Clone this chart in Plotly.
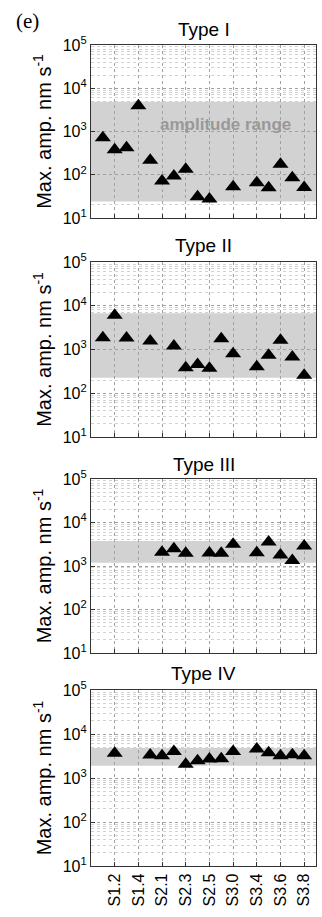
import plotly.graph_objects as go

# ---------------- data ----------------
categories = ["S1.1", "S1.2", "S1.3", "S1.4", "S1.5", "S2.1", "S2.2", "S2.3", "S2.4",
              "S2.5", "S2.6", "S3.0", "S3.2", "S3.4", "S3.5", "S3.6", "S3.7", "S3.8"]
tick_labels = ["S1.2", "S1.4", "S2.1", "S2.3", "S2.5", "S3.0", "S3.4", "S3.6", "S3.8"]

type_names = ["Type I", "Type II", "Type III", "Type IV"]

type1 = [720, 380, 420, 3950, 216, 72, 94, 134, 31, 27.5, None, 53, None, 65, 50, 174, 85, 51]
type2 = [1860, 6030, 1830, None, 1560, None, 1200, 384, 456, 372, 1770, 797, None, 405, 739, 1620, 676, 258]
type3 = [None, None, None, None, None, 2070, 2500, 1960, None, 1990, 1960, 3150, None, 2020, 3560, 1780, 1330, 2890]
type4 = [None, 3630, None, None, 3340, 3220, 3980, 2050, 2480, 2720, 2750, 3980, None, 4570, 3770, 3220, 3390, 3220]
series = [type1, type2, type3, type4]

band_low = [24, 227, 1190, 1890]
band_high = [4900, 6700, 3760, 4800]

y_tickvals = [10, 100, 1000, 10000, 100000]
y_ticktext = ["10<sup>1</sup>", "10<sup>2</sup>", "10<sup>3</sup>", "10<sup>4</sup>", "10<sup>5</sup>"]

# ---------------- layout geometry ----------------
W, H = 322, 917
L, R, T, B = 91, 6, 45, 51
plot_h = H - T - B
panels_px = [(45, 218), (262, 437), (479, 653), (690, 866)]
title_px = [30, 246, 464, 673]


def py(p):
    return (H - B - p) / plot_h


def px(p):
    return (p - L) / (W - L - R)


FONT = "Liberation Sans, Arial, Helvetica, sans-serif"

fig = go.Figure()
layout = dict(
    width=W, height=H, autosize=False,
    margin=dict(l=L, r=R, t=T, b=B, pad=0),
    paper_bgcolor="white", plot_bgcolor="white",
    showlegend=False,
    font=dict(family=FONT, color="black"),
    shapes=[], annotations=[],
)

for i, (name, vals) in enumerate(zip(type_names, series)):
    xa = "x" if i == 0 else f"x{i+1}"
    ya = "y" if i == 0 else f"y{i+1}"
    xk = "xaxis" if i == 0 else f"xaxis{i+1}"
    yk = "yaxis" if i == 0 else f"yaxis{i+1}"
    top, bot = panels_px[i]
    last = i == 3
    layout[xk] = dict(
        domain=[0, 1], anchor=ya, type="category",
        categoryorder="array", categoryarray=categories,
        range=[-1, len(categories)],
        tickmode="array", tickvals=tick_labels, ticktext=tick_labels,
        showticklabels=last, tickangle=-90,
        tickfont=dict(size=16, family=FONT),
        ticks="inside", ticklen=4, tickcolor="#333",
        showline=True, mirror=True, linecolor="#333", linewidth=1.2,
        showgrid=True, gridcolor="#a0a0a0", griddash="dot", gridwidth=1,
        zeroline=False, fixedrange=True,
    )
    layout[yk] = dict(
        domain=[py(bot), py(top)], anchor=xa, type="log",
        range=[1, 5],
        tickmode="array", tickvals=y_tickvals, ticktext=y_ticktext,
        tickfont=dict(size=16, family=FONT),
        ticks="inside", ticklen=4, tickcolor="#333",
        showline=True, mirror=True, linecolor="#333", linewidth=1.2,
        showgrid=True, gridcolor="#a0a0a0", griddash="dot", gridwidth=1,
        minor=dict(showgrid=True, gridcolor="#d2d2d2", griddash="dot",
                   dtick="D1", ticks=""),
        title=dict(text="Max. amp. nm s<sup>-1</sup>",
                   font=dict(size=20, family=FONT), standoff=5),
        zeroline=False, fixedrange=True,
    )
    layout["shapes"].append(dict(
        type="rect", xref=f"{xa} domain", yref=ya,
        x0=0, x1=1, y0=band_low[i], y1=band_high[i],
        fillcolor="rgb(210,210,210)", line=dict(width=0), layer="below",
    ))
    layout["annotations"].append(dict(
        text=name, xref="paper", yref="paper", x=0.5, y=py(title_px[i]),
        xanchor="center", yanchor="middle", showarrow=False,
        font=dict(size=19, family=FONT, color="black"),
    ))
    fig.add_trace(go.Scatter(
        x=categories, y=vals, mode="markers", xaxis=xa, yaxis=ya,
        marker=dict(symbol="triangle-up", size=14, color="black",
                    line=dict(width=0)),
        cliponaxis=False, hoverinfo="skip",
    ))

layout["annotations"].append(dict(
    text="<b>amplitude range</b>", xref="paper", yref="paper",
    x=px(225), y=py(125), xanchor="center", yanchor="middle", showarrow=False,
    font=dict(size=17, family=FONT, color="#999999"),
))
layout["annotations"].append(dict(
    text="(e)", xref="paper", yref="paper",
    x=px(27), y=py(21), xanchor="center", yanchor="middle", showarrow=False,
    font=dict(size=21, family="Liberation Serif, Times New Roman, serif", color="black"),
))

fig.update_layout(**layout)
fig.write_html("out.html")
